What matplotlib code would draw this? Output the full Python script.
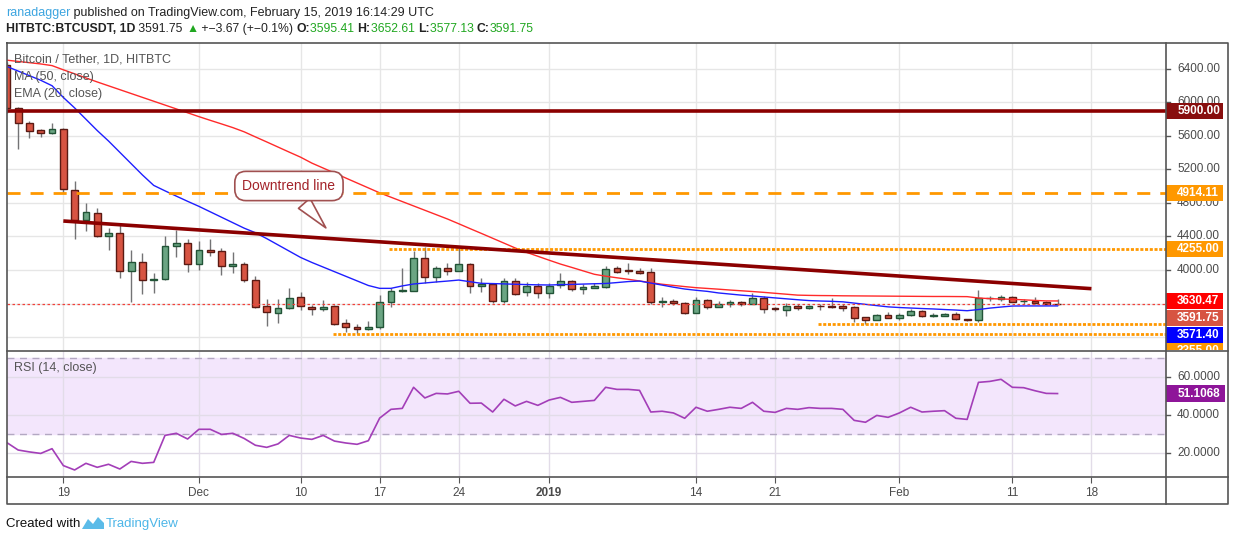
import matplotlib
matplotlib.use("Agg")
import matplotlib.pyplot as plt
import matplotlib.dates as mdates
import matplotlib.transforms as mtrans
from matplotlib.patches import Rectangle, Polygon
import pandas as pd

W, H = 1234, 541
FONT = ["Liberation Sans", "DejaVu Sans"]
plt.rcParams["font.family"] = FONT

# daily candles, HITBTC BTC/USDT
dates = pd.date_range("2018-11-14", "2019-02-15", freq="D")
opens = [6450, 5930, 5752, 5668, 5632, 5680, 4950, 4600, 4677, 4402,
         4438, 3984, 4095, 3877, 3892, 4283, 4322, 4068, 4235, 4227,
         4044, 4072, 3881, 3570, 3490, 3542, 3674, 3562, 3530, 3566,
         3363, 3316, 3292, 3316, 3614, 3746, 3753, 4140, 3920, 4020,
         3992, 4068, 3805, 3829, 3630, 3865, 3734, 3805, 3721, 3817,
         3865, 3777, 3789, 3801, 4020, 3998, 3988, 3972, 3614, 3630,
         3602, 3490, 3638, 3562, 3594, 3614, 3598, 3666, 3546, 3526,
         3570, 3550, 3574, 3574, 3574, 3554, 3434, 3406, 3458, 3430,
         3458, 3506, 3450, 3454, 3478, 3415, 3398, 3662, 3654, 3682,
         3626, 3630, 3618, 3595.41]
highs = [6480, 5950, 5780, 5685, 5760, 5690, 5063, 4796, 4737, 4498,
         4557, 4239, 4207, 3968, 4410, 4478, 4366, 4346, 4370, 4266,
         4211, 4099, 3928, 3650, 3650, 3785, 3741, 3582, 3642, 3580,
         3415, 3355, 3391, 3701, 3789, 4020, 4227, 4279, 4048, 4088,
         4259, 4088, 3900, 3850, 3905, 3900, 3857, 3841, 3850, 3960,
         3880, 3833, 3850, 4048, 4048, 4088, 4020, 4020, 3674, 3650,
         3622, 3674, 3658, 3634, 3642, 3625, 3722, 3686, 3562, 3602,
         3598, 3582, 3598, 3666, 3590, 3570, 3442, 3470, 3498, 3482,
         3530, 3522, 3490, 3486, 3494, 3415, 3761, 3690, 3698, 3690,
         3658, 3674, 3630, 3652.61]
lows = [5880, 5440, 5580, 5590, 5625, 4923, 4375, 4470, 4390, 4240,
        3908, 3622, 3710, 3720, 3880, 4160, 3980, 4000, 4170, 3944,
        3960, 3860, 3550, 3335, 3370, 3530, 3522, 3466, 3514, 3343,
        3263, 3236, 3284, 3300, 3555, 3740, 3745, 3849, 3857, 3940,
        3985, 3721, 3734, 3610, 3610, 3700, 3693, 3670, 3670, 3781,
        3750, 3717, 3780, 3780, 3960, 3952, 3952, 3600, 3555, 3580,
        3479, 3485, 3534, 3555, 3562, 3570, 3590, 3490, 3510, 3455,
        3526, 3534, 3526, 3550, 3510, 3383, 3355, 3400, 3425, 3405,
        3450, 3442, 3440, 3454, 3398, 3390, 3383, 3630, 3630, 3622,
        3598, 3598, 3590, 3577.13]
closes = [5930, 5750, 5665, 5632, 5680, 4965, 4600, 4690, 4402, 4438,
          3984, 4095, 3877, 3892, 4287, 4322, 4068, 4235, 4215, 4051,
          4072, 3881, 3562, 3502, 3546, 3665, 3570, 3530, 3562, 3355,
          3316, 3292, 3316, 3614, 3746, 3761, 4140, 3920, 4020, 3992,
          4072, 3809, 3829, 3626, 3865, 3710, 3805, 3721, 3809, 3865,
          3769, 3797, 3813, 4008, 3980, 3986, 3968, 3614, 3630, 3602,
          3490, 3638, 3562, 3594, 3618, 3594, 3666, 3538, 3530, 3566,
          3550, 3570, 3566, 3562, 3550, 3430, 3406, 3458, 3430, 3462,
          3506, 3454, 3460, 3474, 3410, 3398, 3662, 3666, 3682, 3622,
          3634, 3610, 3594, 3591.75]
ma50 = [6505, 6490, 6475, 6460, 6440, 6390, 6342, 6293, 6245, 6199,
        6153, 6107, 6061, 6015, 5969, 5923, 5877, 5831, 5787, 5744,
        5700, 5650, 5589, 5529, 5468, 5407, 5347, 5276, 5217, 5158,
        5098, 5039, 4980, 4921, 4869, 4817, 4765, 4713, 4661, 4609,
        4552, 4494, 4437, 4379, 4321, 4263, 4211, 4164, 4117, 4071,
        4031, 3990, 3949, 3926, 3907, 3889, 3869, 3849, 3830, 3816,
        3802, 3789, 3780, 3771, 3761, 3752, 3743, 3733, 3722, 3711,
        3700, 3697, 3695, 3694, 3692, 3691, 3690, 3689, 3688, 3687,
        3686, 3685, 3684, 3684, 3683, 3682, 3666, 3658, 3654, 3650,
        3644, 3637, 3631, 3630.47]
ema20 = [6430, 6375, 6320, 6265, 6200, 6060, 5935, 5800, 5665, 5540,
         5405, 5270, 5135, 5010, 4945, 4882, 4820, 4760, 4695, 4630,
         4565, 4500, 4445, 4375, 4300, 4225, 4150, 4090, 4035, 3980,
         3925, 3870, 3815, 3781, 3781, 3810, 3833, 3845, 3857, 3868,
         3880, 3860, 3841, 3838, 3834, 3830, 3826, 3823, 3821, 3825,
         3828, 3832, 3836, 3839, 3850, 3862, 3868, 3844, 3820, 3795,
         3773, 3758, 3745, 3726, 3713, 3700, 3690, 3678, 3667, 3656,
         3645, 3635, 3630, 3626, 3620, 3605, 3590, 3575, 3560, 3552,
         3546, 3540, 3535, 3528, 3522, 3514, 3528, 3545, 3558, 3570,
         3571, 3571, 3571, 3571.40]
rsi = [25.3, 21.4, 20.4, 19.6, 22.1, 13.2, 10.9, 14.4, 12.3, 13.9,
       11.4, 15.4, 14.4, 14.9, 29.1, 30.2, 27.2, 32.3, 32.3, 29.6,
       30.2, 27.5, 23.9, 22.8, 24.6, 29.1, 27.7, 27.0, 29.1, 26.1,
       25.1, 24.4, 26.3, 38.2, 42.8, 43.3, 54.4, 48.8, 51.2, 50.9,
       52.3, 46.0, 46.1, 41.4, 48.1, 44.6, 47.0, 44.9, 47.7, 49.1,
       46.5, 47.0, 47.5, 54.4, 53.3, 53.3, 52.8, 41.4, 41.8, 40.9,
       38.1, 43.9, 41.8, 42.8, 43.9, 43.3, 46.5, 41.8, 41.2, 43.3,
       42.8, 43.7, 43.3, 43.3, 42.8, 37.0, 36.0, 39.6, 38.6, 40.9,
       43.9, 41.4, 41.8, 42.1, 38.1, 37.5, 57.0, 57.5, 58.6, 54.4,
       54.2, 52.6, 51.2, 51.1068]

tick_dates = ["2018-11-19", "2018-12-01", "2018-12-10", "2018-12-17", "2018-12-24",
              "2019-01-01", "2019-01-14", "2019-01-21", "2019-02-01", "2019-02-11",
              "2019-02-18"]
tick_labels = ["19", "Dec", "10", "17", "24", "2019", "14", "21", "Feb", "11", "18"]
price_ticks = [4000, 4400, 4800, 5200, 5600, 6000, 6400]

# drawn levels
resist_level = 5900.00
dash_level = 4914.11
dotted_levels = [4255.00, 3355.00, 3236.00]
dotted_starts = ["2018-12-17 20:00", "2019-01-24 20:00", "2018-12-12 20:00"]
trend_dates = ["2018-11-19", "2019-02-18"]
trend_prices = [4585, 3777]
last_price = 3591.75

axis_labels = ["5900.00", "4914.11", "4255.00", "3630.47", "3591.75", "3571.40", "3355.00"]
axis_label_values = [5900.00, 4914.11, 4255.00, 3630.47, 3591.75, 3571.40, 3355.00]
axis_label_colors = ["#880E0E", "#FF9800", "#FF9800", "#FF0000", "#D75442", "#0000FF", "#FF9800"]
axis_label_shift = [0, 0, 0, 0, 13.5, 29, 27]   # px pushed down to avoid overlap

fig = plt.figure(figsize=(W / 100, H / 100), dpi=100)
fig.patch.set_facecolor("white")


def box(x0, y0, x1, y1):
    return [x0 / W, 1 - y1 / H, (x1 - x0) / W, (y1 - y0) / H]


ax = fig.add_axes(box(6.5, 43, 1166, 350))
rax = fig.add_axes(box(6.5, 351, 1166, 477), sharex=ax)
pax = fig.add_axes(box(1166, 43, 1228, 350))
rpax = fig.add_axes(box(1166, 351, 1228, 477))
over = fig.add_axes([0, 0, 1, 1])
over.set_xlim(0, W)
over.set_ylim(H, 0)
over.axis("off")
for a in (ax, rax, pax, rpax):
    a.set_facecolor("none")
    for s in a.spines.values():
        s.set_visible(False)

xs = mdates.date2num(dates)
tx = mdates.date2num(pd.to_datetime(tick_dates))
ax.set_xlim(xs[0] - 0.03, xs[0] + 102.6)
ymin, ymax = 3045, 6710
ax.set_ylim(ymin, ymax)
pax.set_ylim(ymin, ymax)
dpp = (ymax - ymin) / 307.0

# grid
ax.set_yticks(range(3200, 6401, 400))
ax.set_xticks(tx)
ax.grid(color="#E6E6E6", lw=1)
ax.set_axisbelow(True)
ax.tick_params(left=False, labelleft=False, bottom=False, labelbottom=False)

# candles
bodies, edges, bottoms, heights = [], [], [], []
for o, c in zip(opens, closes):
    up = c >= o
    bodies.append("#6BA583" if up else "#D75442")
    edges.append("#225437" if up else "#5B1A13")
    bottoms.append(min(o, c))
    heights.append(abs(c - o))
ax.vlines(xs, lows, highs, color="#737375", lw=1, zorder=2)
ax.bar(xs, heights, bottom=bottoms, width=0.6, color=bodies, edgecolor=edges, lw=1, zorder=3)

ax.plot(xs, ma50, color="#FF2A2A", lw=1, zorder=4)
ax.plot(xs, ema20, color="#1E1EFF", lw=1, zorder=4)

ax.axhline(resist_level, color="#8B0000", lw=2.6, zorder=5)
ax.axhline(dash_level, color="#FF9800", lw=2, ls=(0, (4.7, 3.6)), zorder=5)
xr = ax.get_xlim()[1]
for lv, st in zip(dotted_levels, dotted_starts):
    ax.hlines(lv, mdates.date2num(pd.Timestamp(st)), xr, color="#FF9800", lw=2,
              linestyles=[(0, (1.1, 0.6))], zorder=5)
ax.plot(mdates.date2num(pd.to_datetime(trend_dates)), trend_prices, color="#8B0000",
        lw=2.6, zorder=5, solid_capstyle="butt")
ax.axhline(last_price, color="#F0413A", lw=0.9, ls=(0, (2, 2)), zorder=4)

# callout
ax.annotate("Downtrend line", xy=(xs[0] + 28.4, 4478), xytext=(xs[0] + 24.97, 5003),
            ha="center", va="center", fontsize=10, color="#A3232A", zorder=8,
            bbox=dict(boxstyle="round,pad=0.55,rounding_size=0.8", fc="white",
                      ec="#A05050", lw=1.2),
            arrowprops=dict(arrowstyle="wedge,tail_width=1.1", fc="white",
                            ec="#A05050", lw=1.2))

# price axis
bt = mtrans.blended_transform_factory(pax.transAxes, pax.transData)
pax.set_xticks([])
pax.set_yticks([])
for v in range(3200, 6401, 400):
    pax.plot([0, 0.07], [v, v], transform=bt, color="#555555", lw=1)
for v in price_ticks:
    pax.text(0.18, v, f"{v:.2f}", transform=bt, va="center", ha="left",
             fontsize=8.5, color="#4A4A4A", clip_on=True)
for txt, val, col, sh in zip(axis_labels, axis_label_values, axis_label_colors, axis_label_shift):
    yd = val - sh * dpp
    pax.add_patch(Rectangle((0, yd - 8 * dpp), 0.92, 16 * dpp, transform=bt,
                            fc=col, ec="none", zorder=5))
    pax.text(0.18, yd, txt, transform=bt, va="center", ha="left", fontsize=8.5,
             color="white", fontweight="bold", zorder=6, clip_on=True)

# RSI pane
rax.set_ylim(7.2, 73.5)
rax.axhspan(30, 70, color="#F3E6FC", zorder=0)
rax.set_yticks([20, 40, 60])
rax.grid(color="#E2DCE8", lw=1)
rax.set_axisbelow(True)
for lv in (70, 30):
    rax.axhline(lv, color="#B3A8C2", lw=1, ls=(0, (5, 4)), zorder=1)
rax.plot(xs, rsi, color="#A33EB8", lw=1.2, zorder=3)
rax.set_xticks(tx)
rax.set_xticklabels(tick_labels)
rax.tick_params(axis="x", length=4, color="#555555", labelsize=8.5,
                labelcolor="#4A4A4A", pad=3)
rax.tick_params(axis="y", left=False, labelleft=False)
for lab in rax.get_xticklabels():
    if lab.get_text() == "2019":
        lab.set_fontweight("bold")

rbt = mtrans.blended_transform_factory(rpax.transAxes, rpax.transData)
rpax.set_ylim(7.2, 73.5)
rpax.set_xticks([])
rpax.set_yticks([])
for v in (20, 40, 60):
    rpax.plot([0, 0.07], [v, v], transform=rbt, color="#555555", lw=1)
    rpax.text(0.18, v, f"{v:.4f}", transform=rbt, va="center", ha="left",
              fontsize=8.5, color="#4A4A4A")
rdpp = (73.5 - 7.2) / 126.0
rpax.add_patch(Rectangle((0, rsi[-1] - 8.5 * rdpp), 0.95, 17 * rdpp, transform=rbt,
                         fc="#8E1599", ec="none", zorder=5))
rpax.text(0.18, rsi[-1], f"{rsi[-1]:.4f}", transform=rbt, va="center", ha="left",
          fontsize=8.5, color="white", fontweight="bold", zorder=6)

# frame
fc = "#555555"
over.plot([6.5, 1228, 1228, 6.5, 6.5], [43, 43, 504, 504, 43], color=fc, lw=1.2)
over.plot([6.5, 1228], [350.5, 350.5], color=fc, lw=1.2)
over.plot([6.5, 1228], [477, 477], color=fc, lw=1.2)
over.plot([1166, 1166], [43, 504], color=fc, lw=1.2)

# pane legends
over.text(14, 60, "Bitcoin / Tether, 1D, HITBTC", va="center", fontsize=9, color="#555555")
over.text(14, 77, "MA (50, close)", va="center", fontsize=9, color="#555555")
over.text(14, 94, "EMA (20, close)", va="center", fontsize=9, color="#555555")
over.text(14, 368, "RSI (14, close)", va="center", fontsize=9, color="#555555")

rend = fig.canvas.get_renderer()


def run(x, y, parts, size):
    for s, col, w in parts:
        t = over.text(x, y, s, color=col, fontsize=size, fontweight=w, va="center",
                      ha="left")
        x += t.get_window_extent(renderer=rend).width


green = "#20A720"
dark = "#222222"
run(6, 13, [("ranadagger", "#3DA5E0", "normal"),
            (" published on TradingView.com, February 15, 2019 16:14:29 UTC", dark, "normal")], 9)
run(6, 29, [("HITBTC:BTCUSDT, 1D", dark, "bold"), (" 3591.75 ", dark, "normal"),
            ("▲", green, "normal"), (" +\u22123.67 (+\u22120.1%) ", dark, "normal"),
            ("O:", dark, "bold"), ("3595.41 ", green, "normal"),
            ("H:", dark, "bold"), ("3652.61 ", green, "normal"),
            ("L:", dark, "bold"), ("3577.13 ", green, "normal"),
            ("C:", dark, "bold"), ("3591.75", green, "normal")], 8.8)

# footer
over.text(6, 524, "Created with", va="center", fontsize=9.5, color="#111111")
over.add_patch(Polygon([(82, 529), (88, 519), (93, 524), (98, 517), (104, 523),
                        (104, 529)], closed=True, fc="#5BBBE8", ec="none"))
over.text(106, 524, "TradingView", va="center", fontsize=9.5, color="#4DB6E8")

fig.savefig("out.png", dpi=100)
